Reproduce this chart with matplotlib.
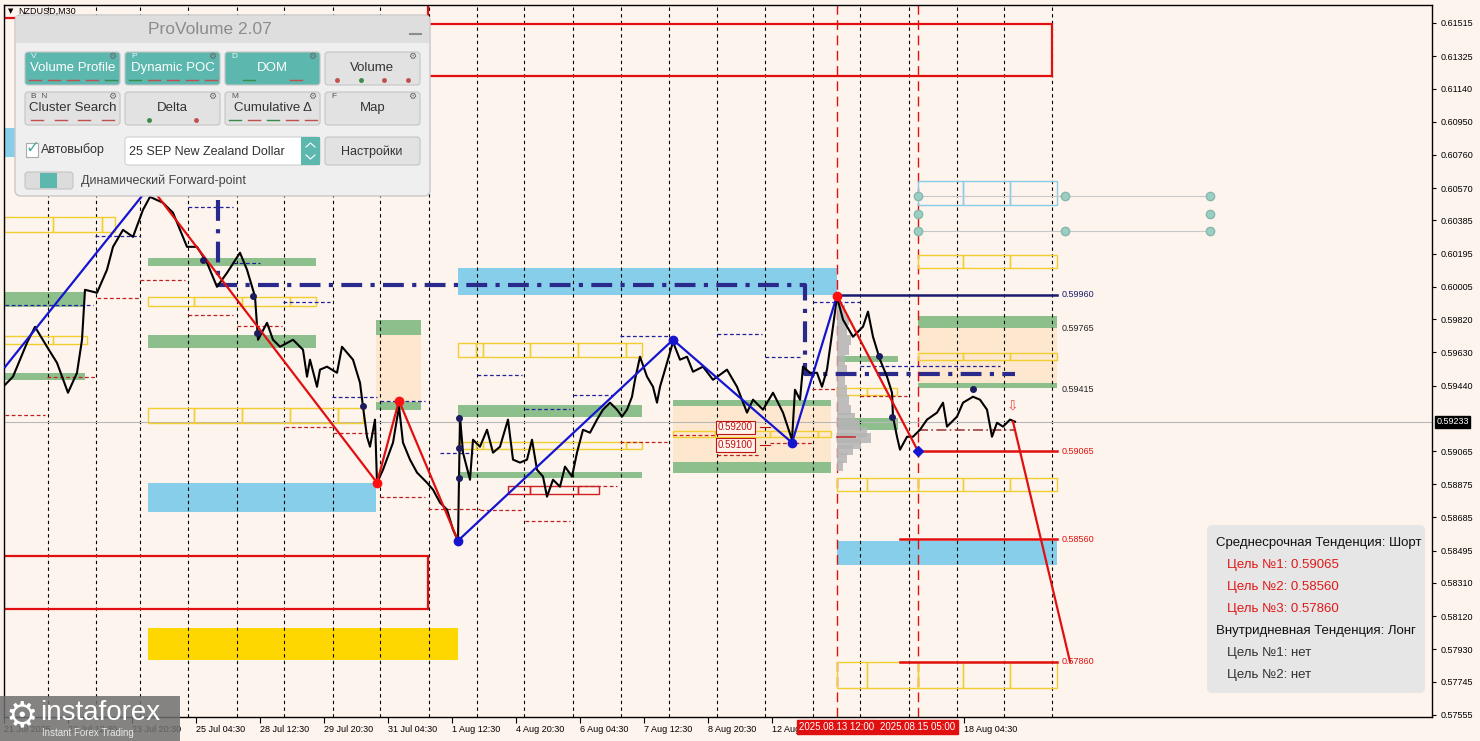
import matplotlib
matplotlib.use('Agg')
import matplotlib.pyplot as plt
from matplotlib.patches import Rectangle, FancyBboxPatch
from matplotlib import transforms

plt.rcParams['font.family'] = ['Liberation Sans', 'DejaVu Sans']

BG = '#fdf4ee'

# ---- data -------------------------------------------------------------
# x axis = M30 bar number, y = price
price_path = [
    (5, 0.59444), (13, 0.59491), (27, 0.59685), (35, 0.59776), (47, 0.59662), (57, 0.59570),
    (68, 0.59399), (77, 0.59513), (82, 0.59702), (85, 0.59988), (97, 0.59971), (107, 0.60103),
    (113, 0.60234), (123, 0.60331), (133, 0.60291), (143, 0.60446), (150, 0.60520), (163, 0.60486),
    (173, 0.60429), (187, 0.60234), (197, 0.60234), (207, 0.60143), (217, 0.60005), (227, 0.60085),
    (240, 0.60200), (247, 0.60103), (255, 0.59949), (258, 0.59702), (267, 0.59799), (273, 0.59702),
    (280, 0.59662), (293, 0.59702), (303, 0.59645), (307, 0.59491), (310, 0.59588), (317, 0.59433),
    (320, 0.59531), (327, 0.59548), (337, 0.59513), (342, 0.59662), (347, 0.59628), (353, 0.59588),
    (360, 0.59456), (363, 0.59319), (367, 0.59147), (370, 0.59090), (375, 0.59245), (377, 0.58884),
    (383, 0.58958), (393, 0.59113), (399, 0.59319), (403, 0.59113), (410, 0.59016), (417, 0.58942),
    (427, 0.58884), (433, 0.58844), (440, 0.58770), (447, 0.58730), (453, 0.58615), (458, 0.58552),
    (460, 0.59262), (463, 0.59056), (470, 0.58901), (473, 0.59130), (480, 0.59090), (487, 0.59187),
    (493, 0.59056), (500, 0.59090), (508, 0.59245), (513, 0.59016), (520, 0.58999), (527, 0.59016),
    (532, 0.59130), (537, 0.58958), (543, 0.58919), (547, 0.58804), (553, 0.58901), (560, 0.58861),
    (565, 0.58976), (572, 0.58919), (577, 0.59056), (583, 0.59187), (590, 0.59170), (597, 0.59245),
    (603, 0.59302), (610, 0.59342), (617, 0.59302), (622, 0.59262), (627, 0.59302), (632, 0.59376),
    (635, 0.59473), (640, 0.59605), (647, 0.59491), (653, 0.59433), (657, 0.59342), (660, 0.59433),
    (667, 0.59570), (673, 0.59690), (680, 0.59588), (687, 0.59605), (693, 0.59519), (703, 0.59548),
    (713, 0.59473), (727, 0.59531), (737, 0.59433), (747, 0.59285), (753, 0.59359), (763, 0.59302),
    (773, 0.59399), (783, 0.59285), (792, 0.59130), (795, 0.59416), (800, 0.59359), (803, 0.59548),
    (810, 0.59513), (817, 0.59513), (822, 0.59433), (827, 0.59531), (833, 0.59777), (837, 0.59948),
    (843, 0.59817), (853, 0.59719), (863, 0.59777), (868, 0.59863), (873, 0.59719), (880, 0.59588),
    (887, 0.59491), (892, 0.59399), (893, 0.59262), (897, 0.59147), (900, 0.59073), (907, 0.59147),
    (913, 0.59147), (920, 0.59187), (927, 0.59245), (937, 0.59285), (943, 0.59342), (947, 0.59205),
    (957, 0.59262), (963, 0.59342), (973, 0.59376), (980, 0.59359), (987, 0.59302), (992, 0.59147),
    (997, 0.59227), (1003, 0.59205), (1010, 0.59245), (1015, 0.59233),
]
last_price = 0.59233

zigzag_blue = [[(5, 0.59546), (150, 0.60582)],
               [(458, 0.58552), (673, 0.59702), (792, 0.59113), (837, 0.59955)]]
zigzag_red = [[(150, 0.60582), (377, 0.58884), (399, 0.59353), (458, 0.58552)],
              [(837, 0.59955), (918, 0.59065)],
              [(1013, 0.59233), (1070, 0.57860)]]
red_pivots = [(150, 0.60582), (377, 0.58884), (399, 0.59353), (837, 0.59955)]
blue_pivots = [(458, 0.58552), (673, 0.59702), (792, 0.59113)]
navy_dots = [(203, 0.60159), (253, 0.59953), (257, 0.59741), (363, 0.59324), (459, 0.59255),
             (459, 0.58911), (459, 0.59083), (879, 0.59610), (892, 0.59261), (973, 0.59421)]

poc_path = [(218, 0.60503), (218, 0.60017), (805, 0.60017), (805, 0.59508), (1015, 0.59508)]

# zones: (bar_from, bar_to, price_lo, price_hi)
green_zones = [
    (4, 85, 0.59890, 0.59976), (4, 85, 0.59472, 0.59512),
    (148, 316, 0.60125, 0.60171), (148, 316, 0.59655, 0.59730),
    (376, 421, 0.59730, 0.59816), (376, 421, 0.59301, 0.59346),
    (458, 642, 0.59261, 0.59329), (458, 642, 0.58911, 0.58946),
    (673, 831, 0.59324, 0.59358), (673, 831, 0.58940, 0.59003),
    (837, 898, 0.59575, 0.59610), (837, 898, 0.59186, 0.59255),
    (918, 1057, 0.59770, 0.59839), (918, 1057, 0.59426, 0.59455),
]
peach_zones = [(376, 421, 0.59346, 0.59730), (673, 831, 0.59003, 0.59324), (918, 1057, 0.59455, 0.59770)]
blue_zones = [(458, 837, 0.59959, 0.60113), (148, 376, 0.58717, 0.58883),
              (837, 1057, 0.58414, 0.58551), (4, 100, 0.60749, 0.60914)]
gold_zones = [(148, 458, 0.57870, 0.58053)]
red_frames = [(4, 428, 0.61544, 0.61700), (428, 1052, 0.61212, 0.61510), (4, 428, 0.58162, 0.58465)]

# outlined cells: (cell borders, price_lo, price_hi)
yellow_rows = [
    ([4, 53, 102, 115], 0.60319, 0.60405),
    ([4, 53, 87], 0.59678, 0.59724),
    ([148, 194, 242, 290, 316], 0.59896, 0.59947),
    ([148, 194, 242, 290, 338, 363], 0.59226, 0.59312),
    ([458, 476, 483, 530, 578, 626, 642], 0.59604, 0.59684),
    ([458, 476, 483, 530, 578, 626, 642], 0.59077, 0.59117),
    ([673, 715, 770, 818, 831], 0.59146, 0.59180),
    ([837, 867, 897], 0.59386, 0.59426),
    ([918, 963, 1010, 1057], 0.59587, 0.59627),
    ([918, 963, 1010, 1057], 0.60113, 0.60188),
    ([837, 867, 918, 963, 1010, 1057], 0.58837, 0.58911),
    ([837, 867, 918, 963, 1010, 1057], 0.57710, 0.57858),
]
red_rows = [([508, 530, 578, 599], 0.58820, 0.58866)]
cyan_rows = [([918, 963, 1010, 1057], 0.60474, 0.60611)]

forward_levels = [0.60526, 0.60423, 0.60326]
forward_bars = [918, 1065, 1210]

navy_dashes = [(5, 93, 0.59901), (95, 140, 0.60296), (188, 233, 0.60462), (233, 260, 0.60142),
               (283, 330, 0.59919), (332, 377, 0.59375), (380, 425, 0.59352), (440, 473, 0.59054),
               (477, 522, 0.59501), (525, 570, 0.59306), (573, 613, 0.59386), (620, 670, 0.59724),
               (717, 762, 0.59736), (765, 802, 0.59604), (813, 860, 0.59919), (860, 1000, 0.59552)]
red_dashes = [(5, 45, 0.59272), (47, 95, 0.59489), (97, 140, 0.59941), (140, 185, 0.60045),
              (188, 233, 0.59844), (237, 282, 0.59781), (285, 332, 0.59203), (333, 377, 0.59169),
              (380, 425, 0.58803), (428, 480, 0.58734), (480, 522, 0.58728), (525, 570, 0.58665),
              (578, 617, 0.58866), (620, 667, 0.59117), (673, 715, 0.59158), (717, 760, 0.59043),
              (770, 812, 0.59112), (812, 837, 0.59421), (860, 907, 0.59381)]

profile_prices = [0.59930, 0.59873, 0.59816, 0.59758, 0.59701, 0.59644, 0.59587, 0.59530, 0.59472,
                  0.59415, 0.59358, 0.59301, 0.59255, 0.59215, 0.59175, 0.59140, 0.59106, 0.59072,
                  0.59026, 0.58980]
profile_width = [4, 8, 12, 10, 14, 12, 8, 10, 8, 10, 12, 14, 18, 22, 30, 34, 24, 16, 10, 6]

target_lines = [(837, 1057, 0.59960, '#1b1b6e', '0.59960'), (918, 1057, 0.59065, '#e01010', '0.59065'),
                (900, 1057, 0.58560, '#e01010', '0.58560'), (900, 1057, 0.57860, '#e01010', '0.57860')]
zone_labels = [(0.59765, '0.59765'), (0.59415, '0.59415')]

separators = [48, 96, 140, 188, 237, 284, 333, 380, 429, 477, 524, 573, 621, 669, 717, 765, 813,
              860, 909, 957, 1004, 1052]
signal_bars = [837, 918]
signal_labels = ['2025.08.13 12:00', '2025.08.15 05:00']

time_ticks = [4, 68, 132, 196, 260, 324, 388, 452, 516, 580, 644, 708, 772, 964]
time_labels = ['21 Jul 2025', '22 Jul 12:30', '23 Jul 20:30', '25 Jul 04:30', '28 Jul 12:30',
               '29 Jul 20:30', '31 Jul 04:30', '1 Aug 12:30', '4 Aug 20:30', '6 Aug 04:30',
               '7 Aug 12:30', '8 Aug 20:30', '12 Aug 04:30', '18 Aug 04:30']
price_ticks = [0.61515, 0.61325, 0.61140, 0.60950, 0.60760, 0.60570, 0.60385, 0.60195, 0.60005,
               0.59820, 0.59630, 0.59440, 0.59065, 0.58875, 0.58685, 0.58495, 0.58310, 0.58120,
               0.57930, 0.57745, 0.57555]

info_lines = [('Среднесрочная Тенденция: Шорт', '#111111', 0),
              ('Цель №1: 0.59065', '#e01818', 1), ('Цель №2: 0.58560', '#e01818', 1),
              ('Цель №3: 0.57860', '#e01818', 1),
              ('Внутридневная Тенденция: Лонг', '#111111', 0),
              ('Цель №1: нет', '#333333', 1), ('Цель №2: нет', '#333333', 1)]

# ---- chart ------------------------------------------------------------
fig = plt.figure(figsize=(14.8, 7.41), dpi=100)
fig.patch.set_facecolor(BG)
ax = fig.add_axes([4 / 1480, 24 / 741, 1428 / 1480, 712 / 741])
ax.set_facecolor(BG)
ax.set_xlim(4, 1432)
ax.set_ylim(0.57543, 0.61618)


def box(x0, x1, lo, hi, **kw):
    ax.add_patch(Rectangle((x0, lo), x1 - x0, hi - lo, **kw))


for z in peach_zones:
    box(*z, fc='#fde8cf', ec='none', zorder=1)
for z in green_zones:
    box(*z, fc='#8dbf8d', ec='none', zorder=1.2)
for z in blue_zones:
    box(*z, fc='#87ceeb', ec='none', zorder=1.2)
for z in gold_zones:
    box(*z, fc='#ffd700', ec='none', zorder=1.2)
for z in red_frames:
    box(*z, fc='none', ec='#e01010', lw=1.6, zorder=2)

for rows, col in [(yellow_rows, '#f2cf2f'), (red_rows, '#d02020'), (cyan_rows, '#8ccbe6')]:
    for edges, lo, hi in rows:
        for a, b in zip(edges[:-1], edges[1:]):
            box(a, b, lo, hi, fc='none', ec=col, lw=1.0, zorder=2)

for lvl in [forward_levels[0], forward_levels[2]]:
    ax.plot([forward_bars[0], forward_bars[-1]], [lvl, lvl], color='#c8c8c8', lw=0.8, zorder=2)
for i, b in enumerate(forward_bars):
    for j, lvl in enumerate(forward_levels):
        if j == 1 and i == 1:
            continue
        ax.plot(b, lvl, 'o', ms=6, mfc='#9ccfc4', mec='#86b8ae', zorder=3)

for s in separators:
    ax.axvline(s, color='black', ls=(0, (3, 3)), lw=0.8, zorder=1.5)
for s in signal_bars:
    ax.axvline(s, color='#e01010', ls=(0, (7, 4)), lw=1.0, zorder=1.6)

for a, b, p in navy_dashes:
    ax.plot([a, b], [p, p], color='#2020a0', ls=(0, (3, 2)), lw=0.9, zorder=2.5)
for a, b, p in red_dashes:
    ax.plot([a, b], [p, p], color='#c02020', ls=(0, (3, 2)), lw=0.9, zorder=2.5)

ax.axhline(last_price, color='#b8b8b8', lw=0.8, zorder=1.8)

ax.barh(profile_prices, profile_width, height=0.00057, left=837, color='#b4b4b4',
        edgecolor='none', alpha=0.85, zorder=2.6)
ax.plot([837, 855], [0.59147, 0.59147], color='#c03030', lw=1.2, zorder=2.7)

px, py = zip(*poc_path)
ax.plot(px, py, color='#2a2a8c', lw=3, ls=(0, (5, 2, 1, 2)), zorder=3)

ax.plot([918, 1015], [0.59187, 0.59187], color='#a04040', lw=1.2, ls=(0, (6, 2, 1, 2)), zorder=3)

for a, b, p, c, t in target_lines:
    ax.plot([a, b], [p, p], color=c, lw=1.8, zorder=3)
    ax.text(b + 5, p, t, color=c, fontsize=6.5, va='center', zorder=6)
for p, t in zone_labels:
    ax.text(1062, p, t, color='#222222', fontsize=6.5, va='center', zorder=6)

bx, by = zip(*price_path)
ax.plot(bx, by, color='black', lw=1.5, zorder=4)

for seg in zigzag_blue:
    x, y = zip(*seg)
    ax.plot(x, y, color='#1515d0', lw=1.6, zorder=5)
for seg in zigzag_red:
    x, y = zip(*seg)
    ax.plot(x, y, color='#e01010', lw=1.6, zorder=5)
for x, y in red_pivots:
    ax.plot(x, y, 'o', ms=6, color='#ff1010', zorder=6)
for x, y in blue_pivots:
    ax.plot(x, y, 'o', ms=6, color='#1515d0', zorder=6)
ax.plot(918, 0.59065, 'D', ms=5, color='#1515d0', zorder=6)
for x, y in navy_dots:
    ax.plot(x, y, 'o', ms=4, color='#1c1c5e', zorder=6)

ax.text(1012, 0.59325, '⇩', color='#e85050', fontsize=10, ha='center', va='center',
        family=['DejaVu Sans'], zorder=6)

for t, p in [('0.59200', 0.59200), ('0.59100', 0.59100)]:
    ax.text(718, p, t, color='#c01010', fontsize=7, va='center', zorder=6,
            bbox=dict(fc=BG, ec='#c01010', lw=0.8, pad=1.2))
    ax.plot([760, 770], [p, p], color='#c01010', lw=0.8, zorder=6)

# axes / ticks
ax.yaxis.tick_right()
ax.set_yticks(price_ticks)
ax.set_yticklabels([f'{v:.5f}' for v in price_ticks])
ax.set_xticks(time_ticks)
ax.set_xticklabels(time_labels)
for lbl in ax.get_xticklabels():
    lbl.set_horizontalalignment('left')
ax.tick_params(axis='y', length=3, labelsize=6.5, pad=3)
ax.tick_params(axis='x', length=4, labelsize=6.5, pad=2)
for sp in ax.spines.values():
    sp.set_color('black')
    sp.set_linewidth(1)

ytr = transforms.blended_transform_factory(ax.transAxes, ax.transData)
ax.text(1.003, last_price, '0.59233', transform=ytr, color='white', fontsize=6.5, va='center',
        ha='left', bbox=dict(fc='black', ec='black', pad=1.2), zorder=10, clip_on=False)
xtr = transforms.blended_transform_factory(ax.transData, ax.transAxes)
for b, t in zip(signal_bars, signal_labels):
    ax.text(b, -0.0145, t, transform=xtr, color='white', fontsize=7, ha='center', va='center',
            bbox=dict(fc='#e01010', ec='#e01010', pad=1.5), zorder=10, clip_on=False)

# ---- overlays (pixel space) ---------------------------------------------
ov = fig.add_axes([0, 0, 1, 1], zorder=10)
ov.set_xlim(0, 1480)
ov.set_ylim(741, 0)
ov.axis('off')
ov.patch.set_alpha(0)

ov.text(8, 11, '▼', fontsize=5, va='center', family=['DejaVu Sans'])
ov.text(18, 11, 'NZDUSD,M30', fontsize=6.5, va='center')

ov.add_patch(FancyBboxPatch((15, 15), 415, 181, boxstyle='round,pad=0,rounding_size=6',
                            fc='#efefef', ec='#c8c8c8', lw=1))
ov.add_patch(Rectangle((16, 16), 413, 27, fc='#dedede', ec='none'))
ov.text(210, 29, 'ProVolume 2.07', color='#8c8c8c', fontsize=12.5, ha='center', va='center')
ov.plot([410, 421], [34, 34], color='#8c8c8c', lw=1.5)

buttons = [
    ('Volume Profile', 'V', 25, 52, True, 'd', ['r', 'r', 'r', 'r', 'g']),
    ('Dynamic POC', 'P', 125, 52, True, 'd', ['g', 'r', 'r', 'r', 'r']),
    ('DOM', 'D', 225, 52, True, 'd', ['g', 'r']),
    ('Volume', '', 325, 52, False, 'o', ['r', 'g', 'r', 'r']),
    ('Cluster Search', 'B  N', 25, 92, False, 'd', ['r', 'r', 'r', 'r']),
    ('Delta', '', 125, 92, False, 'o', ['g', 'r']),
    ('Cumulative Δ', 'M', 225, 92, False, 'd', ['g', 'r', 'g', 'r', 'r']),
    ('Map', 'F', 325, 92, False, 'd', []),
]
for label, key, x, y, on, kind, marks in buttons:
    fc = '#5cb7ae' if on else '#e2e2e2'
    ov.add_patch(FancyBboxPatch((x, y), 95, 33, boxstyle='round,pad=0,rounding_size=3',
                                fc=fc, ec='#c4c4c4', lw=0.8))
    ov.text(x + 47.5, y + 16, label, color='white' if on else '#333333', fontsize=9.5,
            ha='center', va='center')
    if key:
        ov.text(x + 6, y + 4, key, color='#555555' if not on else '#e8f5f3', fontsize=6, va='center')
    ov.text(x + 87, y + 4, '⚙', color='#666666', fontsize=6.5, ha='center', va='center',
            family=['DejaVu Sans'])
    n = len(marks)
    for i, m in enumerate(marks):
        c = '#c0504d' if m == 'r' else '#3a8a4a'
        cx = x + 95 * (i + 0.5) / n
        if kind == 'd':
            ov.plot([cx - 6, cx + 6], [y + 28, y + 28], color=c, lw=1)
        else:
            ov.plot(cx, y + 28, 'o', ms=2.5, color=c)

ov.add_patch(Rectangle((26, 143), 12, 14, fc='white', ec='#aaaaaa', lw=0.8))
ov.text(32, 148, '✓', color='#4aa89f', fontsize=12, ha='center', va='center', family=['DejaVu Sans'])
ov.text(41, 150, 'Автовыбор', color='#333333', fontsize=9, va='center')
ov.add_patch(FancyBboxPatch((125, 137), 195, 28, boxstyle='round,pad=0,rounding_size=3',
                            fc='white', ec='#d0d0d0', lw=0.8))
ov.add_patch(Rectangle((301, 137), 19, 28, fc='#5cb7ae', ec='none'))
ov.plot([306, 310.5, 315], [147, 143, 147], color='white', lw=0.8)
ov.plot([306, 310.5, 315], [155, 159, 155], color='white', lw=0.8)
ov.text(129, 152, '25 SEP New Zealand Dollar', color='#333333', fontsize=9, va='center')
ov.add_patch(FancyBboxPatch((325, 137), 95, 28, boxstyle='round,pad=0,rounding_size=3',
                            fc='#e2e2e2', ec='#c4c4c4', lw=0.8))
ov.text(372, 152, 'Настройки', color='#333333', fontsize=9, ha='center', va='center')
ov.add_patch(FancyBboxPatch((25, 172), 48, 17, boxstyle='round,pad=0,rounding_size=3',
                            fc='#dcdcdc', ec='#c4c4c4', lw=0.8))
ov.add_patch(Rectangle((40, 173), 17, 15, fc='#5cb7ae', ec='none'))
ov.text(81, 181, 'Динамический Forward-point', color='#444444', fontsize=9, va='center')

ov.add_patch(FancyBboxPatch((1207, 525), 218, 168, boxstyle='round,pad=0,rounding_size=5',
                            fc='#e6e6e6', ec='none'))
for i, (t, c, ind) in enumerate(info_lines):
    ov.text(1216 + 11 * ind, 543 + 22 * i, t, color=c, fontsize=9.5, va='center')

ov.add_patch(Rectangle((0, 696), 180, 45, fc='#6f6f6f', ec='none', alpha=0.85))
ov.text(22, 716, '⚙', color='white', fontsize=26, ha='center', va='center', family=['DejaVu Sans'])
ov.text(40, 713, 'instaforex', color='white', fontsize=20, va='center')
ov.text(42, 733, 'Instant Forex Trading', color='#e8e8e8', fontsize=7, va='center')

fig.savefig('out.png', dpi=100, facecolor=BG)
